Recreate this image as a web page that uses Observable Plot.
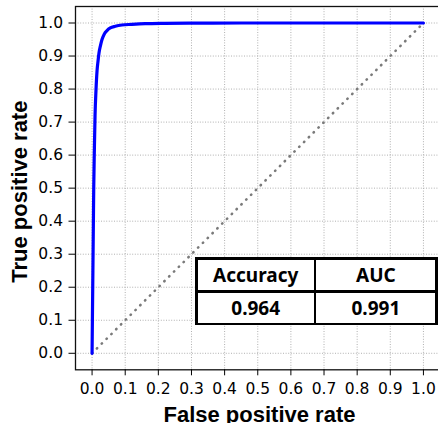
<!DOCTYPE html>
<html><head><meta charset="utf-8">
<script src="https://cdn.jsdelivr.net/npm/d3@7"></script>
<script src="https://cdn.jsdelivr.net/npm/@observablehq/plot@0.6"></script>
<style>
html,body{margin:0;padding:0;background:#fff;overflow:hidden;}
#wrap{position:relative;width:438px;height:423px;overflow:hidden;}
#wrap svg{max-width:none !important;}
#tbl{position:absolute;left:195px;top:257.3px;display:grid;grid-template-columns:116px 119px;grid-template-rows:30px 30px;gap:2.7px;padding:2.7px;background:#000;}
#tbl div{background:#fff;display:flex;align-items:center;justify-content:center;font-family:"Noto Sans";font-weight:700;font-size:19px;color:#000;}
</style></head><body><div id="wrap"></div>
<script>
// ROC curve
const fpr = [0, 0.001, 0.002, 0.003, 0.004, 0.005, 0.007, 0.009, 0.012, 0.015, 0.018, 0.021, 0.025, 0.030, 0.037, 0.045, 0.055, 0.070, 0.090, 0.120, 0.160, 0.220, 0.300, 0.450, 1.0];
const tpr = [0, 0.10, 0.20, 0.30, 0.40, 0.50, 0.62, 0.72, 0.80, 0.855, 0.885, 0.91, 0.93, 0.95, 0.967, 0.977, 0.985, 0.990, 0.994, 0.996, 0.998, 0.999, 0.9995, 1.0, 1.0];
// chance line
const chanceFpr = [0, 1];
const chanceTpr = [0, 1];
// ticks
const ticks = [0, 0.1, 0.2, 0.3, 0.4, 0.5, 0.6, 0.7, 0.8, 0.9, 1.0];
const xLabel = "False positive rate";
const yLabel = "True positive rate";
// metrics table
const metricNames = ["Accuracy", "AUC"];
const metricValues = ["0.964", "0.991"];

const roc = fpr.map((x, i) => ({x, y: tpr[i]}));
const chance = chanceFpr.map((x, i) => ({x, y: chanceTpr[i]}));
const fmt = d3.format(".1f");

const chart = Plot.plot({
  width: 441, height: 423,
  marginLeft: 75, marginRight: 1.5, marginTop: 6, marginBottom: 53.7,
  style: {fontFamily: "DejaVu Sans", fontSize: "15.5px", color: "#000", background: "#fff", overflow: "visible"},
  x: {domain: [-0.05, 1.05]},
  y: {domain: [-0.05, 1.05]},
  marks: [
    Plot.gridX(ticks, {stroke: "#b0b0b0", strokeOpacity: 1, strokeDasharray: "1,1.6", strokeWidth: 1}),
    Plot.gridY(ticks, {stroke: "#b0b0b0", strokeOpacity: 1, strokeDasharray: "1,1.6", strokeWidth: 1}),
    Plot.line(chance, {x: "x", y: "y", stroke: "#7a7a7a", strokeWidth: 2.6, strokeDasharray: "0.4,6.4", strokeLinecap: "round"}),
    Plot.line(roc, {x: "x", y: "y", stroke: "blue", strokeWidth: 3.2, curve: "monotone-x"}),
    Plot.frame({stroke: "#111", strokeWidth: 1.3}),
    Plot.axisX(ticks, {tickFormat: fmt, tickSize: 6, tickPadding: 7.4, label: null, fontSize: 15.5, stroke: "#000"}),
    Plot.axisY(ticks, {tickFormat: fmt, tickSize: 6.5, tickPadding: 6, label: null, fontSize: 15.5, stroke: "#000"}),
    Plot.text([xLabel], {frameAnchor: "bottom", lineAnchor: "middle", textAnchor: "middle", dy: 45.4, dx: 1.7, fontFamily: "Liberation Sans", fontWeight: "bold", fontSize: 22, fill: "#000"}),
    Plot.text([yLabel], {frameAnchor: "left", lineAnchor: "middle", textAnchor: "middle", rotate: -90, dx: -55.3, dy: 3.5, fontFamily: "Liberation Sans", fontWeight: "bold", fontSize: 22, fill: "#000"})
  ]
});
chart.style.maxWidth = "none";

const wrap = document.getElementById("wrap");
wrap.appendChild(chart);

const tbl = document.createElement("div");
tbl.id = "tbl";
for (const t of [...metricNames, ...metricValues]) {
  const c = document.createElement("div");
  c.textContent = t;
  tbl.appendChild(c);
}
wrap.appendChild(tbl);
</script>
</body></html>
